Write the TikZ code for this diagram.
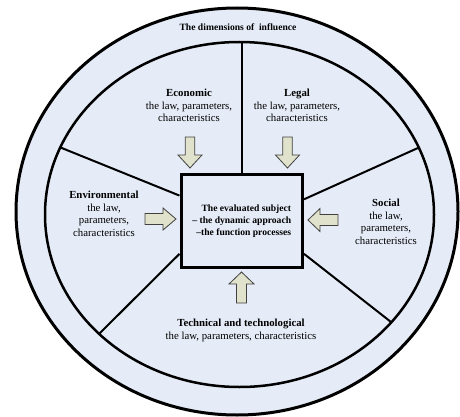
\documentclass[tikz,border=0pt]{standalone}
\usepackage{fontspec}
\setmainfont{Liberation Serif}

% 颜色:浅蓝底色和箭头的浅橄榄色
\definecolor{bandblue}{HTML}{E6ECF7}
\definecolor{arrowkhaki}{HTML}{E0E2CB}

\begin{document}
\begin{tikzpicture}[x=1pt,y=-1pt,  % 1pt 就是原图的一个像素,y 向下
  lawtext/.style={align=center,font=\fontsize{10.8}{12.5}\selectfont},
  dimtitle/.style={font=\bfseries\fontsize{9.6}{11}\selectfont},
  subjbox/.style={draw,line width=3pt,fill=bandblue,minimum width=121.5pt,
    minimum height=92.5pt,inner sep=0pt,align=right,
    font=\bfseries\fontsize{9.6}{12}\selectfont},
  divider/.style={line width=2pt},
  blockarrow/.style={fill=arrowkhaki,draw=black!75,line width=0.8pt,line join=miter}]

  % 画布大小与原图一致
  \useasboundingbox (0,0) rectangle (460,417);

  % 外椭圆和内椭圆,都填充浅蓝色
  \filldraw[fill=bandblue,line width=3pt] (237,211.5) ellipse [x radius=221pt,y radius=203.5pt];
  \filldraw[fill=bandblue,line width=2.5pt] (239.5,214.5) ellipse [x radius=194.5pt,y radius=172.5pt];

  % 内椭圆上的分割点
  \coordinate (cut1) at (60.5,147.5);
  \coordinate (cut2) at (241.75,42);
  \coordinate (cut3) at (419,147.5);
  \coordinate (cut4) at (99.5,333.5);
  \coordinate (cut5) at (391,322);

  % 中间的方框,文字右对齐
  \node[subjbox] (subj) at (241.75,220.75)
    {The evaluated subject\\– the dynamic approach\\–the function processes};

  % 从方框到内椭圆的五条分割线
  \draw[divider] (subj.158.6) -- (cut1);
  \draw[divider] (subj.north) -- (cut2);
  \draw[divider] (subj.19.7) -- (cut3);
  \draw[divider] (subj.208) -- (cut4);
  \draw[divider] (subj.332.8) -- (cut5);

  % 外圈的标题
  \node[dimtitle] (dims) at (238,27.5) {The dimensions of\ \ influence};

  % 五个方面的文字
  \node[lawtext] (econ) at (189,105.5) {\textbf{Economic}\\the law, parameters,\\characteristics};
  \node[lawtext] (legal) at (297,105.5) {\textbf{Legal}\\the law, parameters,\\characteristics};
  \node[lawtext] (envir) at (104,214) {\textbf{Environmental}\\the law,\\parameters,\\characteristics};
  \node[lawtext] (social) at (386,222) {\textbf{Social}\\the law,\\parameters,\\characteristics};
  \node[lawtext] (techn) at (241,330.5) {\textbf{Technical and technological}\\the law, parameters, characteristics};

  % 指向方框的粗箭头,从箭头尖开始画
  % ++ 是相对坐标,每一步都在前一点的基础上移动
  \filldraw[blockarrow] (190,168) -- ++(12,-13) -- ++(-7.25,0) -- ++(0,-18)
    -- ++(-9.5,0) -- ++(0,18) -- ++(-7.25,0) -- cycle;
  \filldraw[blockarrow] (287.5,168) -- ++(12,-13) -- ++(-7.25,0) -- ++(0,-18)
    -- ++(-9.5,0) -- ++(0,18) -- ++(-7.25,0) -- cycle;
  \filldraw[blockarrow] (241.5,272) -- ++(12.5,12) -- ++(-7.5,0) -- ++(0,19)
    -- ++(-10,0) -- ++(0,-19) -- ++(-7.5,0) -- cycle;
  \filldraw[blockarrow] (176,219) -- ++(-13,-11) -- ++(0,5.5) -- ++(-18,0)
    -- ++(0,11) -- ++(18,0) -- ++(0,5.5) -- cycle;
  \filldraw[blockarrow] (308,220) -- ++(12,-11.5) -- ++(0,6) -- ++(18,0)
    -- ++(0,11) -- ++(-18,0) -- ++(0,6) -- cycle;

\end{tikzpicture}
\end{document}
